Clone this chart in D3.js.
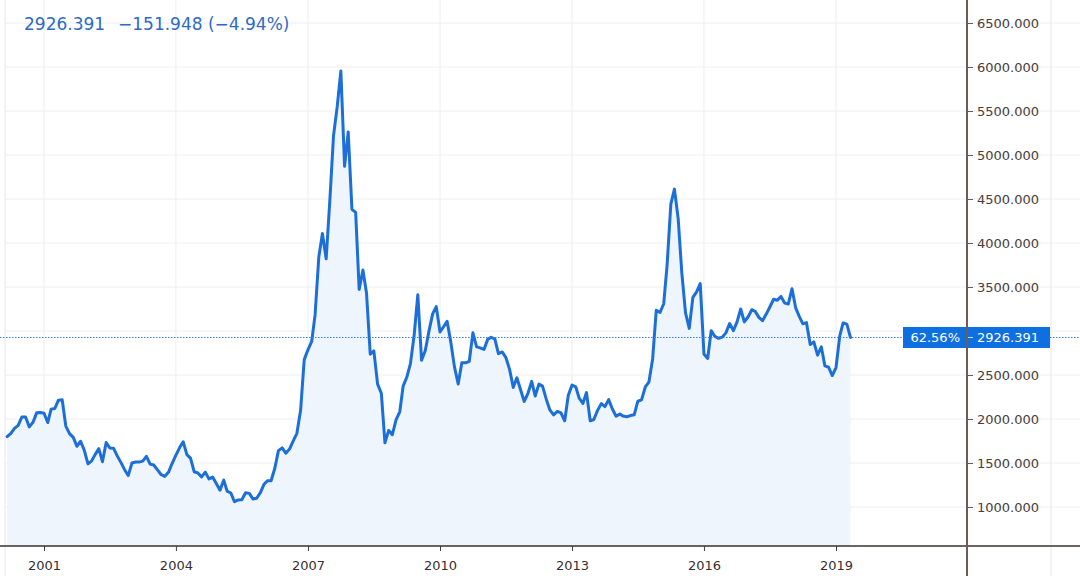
<!DOCTYPE html>
<html>
<head>
<meta charset="utf-8">
<script src="https://cdn.jsdelivr.net/npm/d3@7"></script>
<style>
  html, body { margin: 0; padding: 0; background: #ffffff; }
  svg { display: block; font-family: "DejaVu Sans", Verdana, sans-serif; }
</style>
</head>
<body>
<svg id="chart" width="1080" height="576"></svg>
<script>
// ---- Data: monthly closes, starting March 2000 ----
const startMonth = "2000-03";
const close2000 = [1800, 1836, 1894, 1928, 2023, 2022, 1910, 1961, 2070, 2073];
const close2001 = [2065, 1960, 2112, 2119, 2214, 2218, 1920, 1834, 1791, 1690, 1747, 1646];
const close2002 = [1490, 1525, 1595, 1663, 1515, 1733, 1671, 1669, 1581, 1507, 1424, 1357];
const close2003 = [1500, 1511, 1510, 1521, 1576, 1487, 1477, 1421, 1367, 1348, 1397, 1497];
const close2004 = [1590, 1675, 1742, 1595, 1555, 1400, 1387, 1342, 1396, 1320, 1340, 1266];
const close2005 = [1191, 1306, 1181, 1159, 1060, 1080, 1083, 1162, 1155, 1092, 1099, 1161];
const close2006 = [1258, 1299, 1298, 1440, 1641, 1672, 1612, 1658, 1752, 1837, 2099, 2675];
const close2007 = [2786, 2881, 3183, 3841, 4109, 3820, 4471, 5218, 5552, 5954, 4871, 5262];
const close2008 = [4383, 4348, 3473, 3693, 3433, 2736, 2775, 2397, 2293, 1729, 1871, 1821];
const close2009 = [1991, 2082, 2373, 2477, 2633, 2959, 3412, 2667, 2779, 2996, 3195, 3277];
const close2010 = [2989, 3051, 3110, 2871, 2592, 2398, 2638, 2639, 2656, 2979, 2820, 2808];
const close2011 = [2790, 2905, 2928, 2911, 2743, 2762, 2701, 2567, 2359, 2468, 2333, 2199];
const close2012 = [2292, 2428, 2262, 2396, 2373, 2225, 2103, 2047, 2086, 2069, 1980, 2269];
const close2013 = [2385, 2366, 2237, 2177, 2300, 1979, 1994, 2098, 2175, 2141, 2220, 2116];
const close2014 = [2033, 2056, 2033, 2026, 2039, 2048, 2202, 2217, 2364, 2420, 2683, 3235];
const close2015 = [3210, 3310, 3748, 4441, 4612, 4277, 3664, 3206, 3030, 3383, 3445, 3539];
const close2016 = [2738, 2688, 3004, 2938, 2917, 2930, 2979, 3085, 3005, 3100, 3250, 3104];
const close2017 = [3159, 3242, 3223, 3155, 3117, 3192, 3273, 3361, 3349, 3393, 3317, 3307];
const close2018 = [3481, 3259, 3169, 3082, 3095, 2847, 2876, 2725, 2821, 2603, 2588, 2494];
const close2019 = [2585, 2941, 3091, 3078, 2926.391];

const yearTicks = [2001, 2004, 2007, 2010, 2013, 2016, 2019];
const gridTicks = [1000, 1500, 2000, 2500, 3000, 3500, 4000, 4500, 5000, 5500, 6000, 6500];
// 3000.000 is covered by the last-price label in the reference
const priceTicks = [1000, 1500, 2000, 2500, 3500, 4000, 4500, 5000, 5500, 6000, 6500];
const lastPrice = 2926.391;
const headerPrice = "2926.391";
const headerChange = "\u2212151.948 (\u22124.94%)";
const percentLabel = "62.56%";
const priceLabel = "2926.391";

const closes = [].concat(close2000, close2001, close2002, close2003, close2004, close2005,
  close2006, close2007, close2008, close2009, close2010, close2011, close2012, close2013,
  close2014, close2015, close2016, close2017, close2018, close2019);
const start = d3.timeParse("%Y-%m")(startMonth);
const data = closes.map((v, i) => ({ date: d3.timeMonth.offset(start, i), value: v }));

// ---- Layout ----
const svg = d3.select("#chart");
const W = 1080, H = 576;
const axisX = 967, axisY = 546;

const x = d3.scaleTime()
  .domain([new Date(2001, 0, 1), new Date(2019, 0, 1)])
  .range([44, 836]);
const y = d3.scaleLinear().domain([1000, 6500]).range([507, 23]);

// Background grid
const grid = svg.append("g");
grid.selectAll("line.h").data(gridTicks).enter().append("line")
  .attr("x1", 5).attr("x2", W)
  .attr("y1", d => y(d)).attr("y2", d => y(d))
  .attr("stroke", "#eceef1").attr("stroke-width", 1);
grid.selectAll("line.v").data(yearTicks).enter().append("line")
  .attr("x1", d => x(new Date(d, 0, 1))).attr("x2", d => x(new Date(d, 0, 1)))
  .attr("y1", 0).attr("y2", axisY)
  .attr("stroke", "#eceef1").attr("stroke-width", 1);
grid.append("line").attr("x1", 5).attr("x2", 5).attr("y1", 0).attr("y2", H)
  .attr("stroke", "#e6e8eb");
grid.append("line").attr("x1", 1051).attr("x2", 1051).attr("y1", 0).attr("y2", H)
  .attr("stroke", "#e6e8eb");

// Area + line
const area = d3.area()
  .x(d => x(d.date)).y0(axisY).y1(d => y(d.value));
svg.append("path").datum(data)
  .attr("d", area)
  .attr("fill", "#eef5fd");

const line = d3.line().x(d => x(d.date)).y(d => y(d.value));
svg.append("path").datum(data)
  .attr("d", line)
  .attr("fill", "none")
  .attr("stroke", "#1c6fd9")
  .attr("stroke-width", 3)
  .attr("stroke-linejoin", "round")
  .attr("stroke-linecap", "round");

// Last price dotted line
svg.append("line")
  .attr("x1", 0).attr("x2", W)
  .attr("y1", y(lastPrice)).attr("y2", y(lastPrice))
  .attr("stroke", "#3a7ddc").attr("stroke-width", 1)
  .attr("stroke-dasharray", "1.5,1.5");

// Bottom axis
const xAxis = d3.axisBottom(x)
  .tickValues(yearTicks.map(yr => new Date(yr, 0, 1)))
  .tickFormat(d3.timeFormat("%Y"))
  .tickSize(5).tickSizeOuter(0);
const gx = svg.append("g").attr("transform", `translate(0,${axisY})`).call(xAxis);
gx.select(".domain").remove();
gx.selectAll(".tick line").attr("stroke", "#4a3c3c");
gx.selectAll(".tick text")
  .attr("fill", "#3a2f2f").attr("font-size", 13)
  .attr("font-family", "DejaVu Sans, sans-serif")
  .attr("dy", "0").attr("y", 24);
svg.append("line").attr("x1", 0).attr("x2", W).attr("y1", axisY).attr("y2", axisY)
  .attr("stroke", "#3b2f2f").attr("stroke-width", 1.5);

// Right axis
const yAxis = d3.axisRight(y)
  .tickValues(priceTicks)
  .tickFormat(d3.format(".3f"))
  .tickSize(6).tickSizeOuter(0);
const gy = svg.append("g").attr("transform", `translate(${axisX},0)`).call(yAxis);
gy.select(".domain").remove();
gy.selectAll(".tick line").attr("stroke", "#6d5a5a");
gy.selectAll(".tick text")
  .attr("fill", "#4a3c3c").attr("font-size", 13)
  .attr("font-family", "DejaVu Sans, sans-serif")
  .attr("x", 10);
svg.append("line").attr("x1", axisX).attr("x2", axisX).attr("y1", 0).attr("y2", H)
  .attr("stroke", "#6d5a5a").attr("stroke-width", 2);

// Price label boxes
const ly = y(lastPrice);
svg.append("rect").attr("x", 903).attr("y", ly - 10.5).attr("width", 63).attr("height", 21)
  .attr("fill", "#0d6fe0");
svg.append("text").attr("x", 960).attr("y", ly).attr("dy", "0.35em")
  .attr("text-anchor", "end").attr("fill", "#ffffff").attr("font-size", 13)
  .text(percentLabel);
svg.append("rect").attr("x", 968).attr("y", ly - 10.5).attr("width", 82).attr("height", 21)
  .attr("fill", "#0d6fe0");
svg.append("line").attr("x1", 968).attr("x2", 973).attr("y1", ly).attr("y2", ly)
  .attr("stroke", "#cfe0f7");
svg.append("text").attr("x", 977).attr("y", ly).attr("dy", "0.35em")
  .attr("fill", "#ffffff").attr("font-size", 13)
  .text(priceLabel);

// Header
svg.append("text").attr("x", 24).attr("y", 30)
  .attr("fill", "#2d6bc4").attr("font-size", 17).text(headerPrice);
svg.append("text").attr("x", 118).attr("y", 30)
  .attr("fill", "#2d6bc4").attr("font-size", 17).text(headerChange);
</script>
</body>
</html>
